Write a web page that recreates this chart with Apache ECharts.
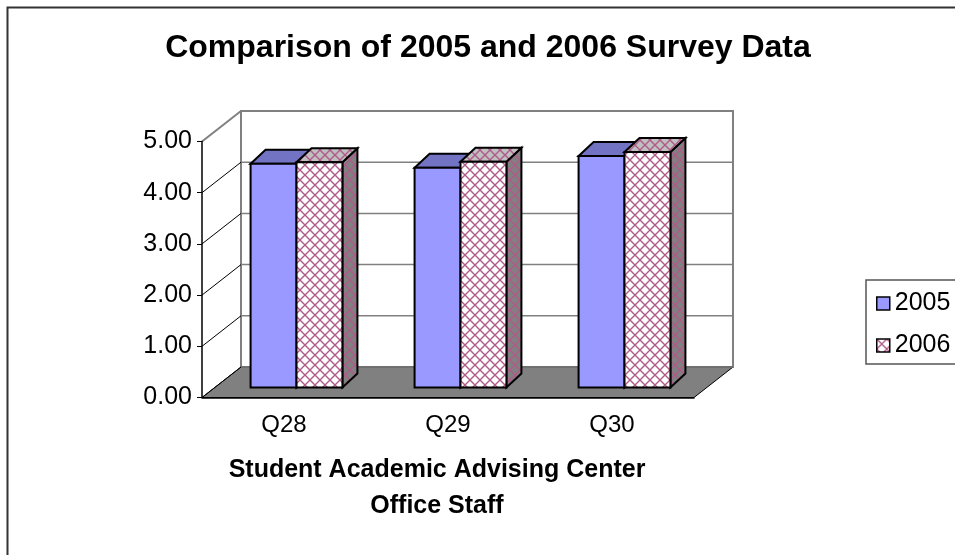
<!DOCTYPE html>
<html>
<head>
<meta charset="utf-8">
<script src="https://cdn.jsdelivr.net/npm/echarts@6/dist/echarts.min.js"></script>
<style>
  html, body { margin: 0; padding: 0; background: #fff; }
  #chart { width: 955px; height: 555px; }
</style>
</head>
<body>
<div id="chart"></div>
<script>
// Survey averages per question
const categories = ['Q28', 'Q29', 'Q30'];
const values2005 = [4.37, 4.29, 4.52];
const values2006 = [4.40, 4.41, 4.60];
const yTicks = [0, 1, 2, 3, 4, 5];
const seriesNames = ['2005', '2006'];

const FONT = "'Liberation Sans', Arial, sans-serif";

// Oblique projection of the 3-D box: back wall, bar front plane, bar thickness
const WALL_DX = 39, WALL_DY = -30.5;
const BAR_DX = 12.5, BAR_DY = -10;
const DEPTH_DX = 15, DEPTH_DY = -14;
const BAR_FRAC = 0.28;

// Diagonal cross-hatch tile on a given background colour
function hatch(bg) {
  const P = 10;
  const c = document.createElement('canvas');
  c.width = P; c.height = P;
  const g = c.getContext('2d');
  g.fillStyle = bg;
  g.fillRect(0, 0, P, P);
  g.strokeStyle = '#B05A8A';
  g.lineWidth = 1.4;
  g.beginPath();
  g.moveTo(-1, -1); g.lineTo(P + 1, P + 1);
  g.moveTo(P + 1, -1); g.lineTo(-1, P + 1);
  g.stroke();
  return { image: c, repeat: 'repeat' };
}

const faces2005 = { front: '#9999FF', top: '#7373C4', side: '#5C5CA8' };
const faces2006 = { front: hatch('#FFFFFF'), top: hatch('#C0C0C0'), side: hatch('#808080') };

// Back wall, floor, wall gridlines and the slanted tick connectors
function renderWall(params, api) {
  const cs = params.coordSys;
  const v = api.value(1);
  const x0 = cs.x, x1 = cs.x + cs.width;
  const y = api.coord([0, v])[1];
  const y0 = api.coord([0, yTicks[0]])[1];
  const yTop = api.coord([0, yTicks[yTicks.length - 1]])[1];
  const children = [];
  if (params.dataIndex === 0) {
    children.push({
      type: 'rect',
      shape: { x: x0 + WALL_DX, y: yTop + WALL_DY, width: cs.width, height: y0 - yTop },
      style: { fill: '#FFFFFF', stroke: '#808080', lineWidth: 2 }
    });
    children.push({
      type: 'polygon',
      shape: { points: [[x0, y0], [x1, y0], [x1 + WALL_DX, y0 + WALL_DY], [x0 + WALL_DX, y0 + WALL_DY]] },
      style: { fill: '#808080', stroke: '#000000', lineWidth: 1 }
    });
  }
  const isTop = v === yTicks[yTicks.length - 1];
  children.push({
    type: 'line',
    shape: { x1: x0 + WALL_DX, y1: y + WALL_DY, x2: x1 + WALL_DX, y2: y + WALL_DY },
    style: { stroke: '#808080', lineWidth: isTop ? 2 : 1.5 }
  });
  children.push({
    type: 'line',
    shape: { x1: x0, y1: y, x2: x0 + WALL_DX, y2: y + WALL_DY },
    style: { stroke: isTop ? '#808080' : '#000000', lineWidth: isTop ? 2 : 1 }
  });
  return { type: 'group', children: children };
}

// 3-D column: side face, top face, front face
function makeBar(leftOfCenter, faces) {
  return function (params, api) {
    const idx = api.value(0), val = api.value(1);
    const top = api.coord([idx, val]);
    const base = api.coord([idx, 0]);
    const bw = api.size([1, 0])[0] * BAR_FRAC;
    const xl = top[0] + BAR_DX - (leftOfCenter ? bw : 0);
    const xr = xl + bw;
    const yt = top[1] + BAR_DY, yb = base[1] + BAR_DY;
    const edge = { stroke: '#000000', lineWidth: 2, lineJoin: 'miter' };
    return {
      type: 'group',
      children: [
        { type: 'polygon',
          shape: { points: [[xr, yt], [xr + DEPTH_DX, yt + DEPTH_DY], [xr + DEPTH_DX, yb + DEPTH_DY], [xr, yb]] },
          style: Object.assign({ fill: faces.side }, edge) },
        { type: 'polygon',
          shape: { points: [[xl, yt], [xr, yt], [xr + DEPTH_DX, yt + DEPTH_DY], [xl + DEPTH_DX, yt + DEPTH_DY]] },
          style: Object.assign({ fill: faces.top }, edge) },
        { type: 'rect',
          shape: { x: xl, y: yt, width: bw, height: yb - yt },
          style: Object.assign({ fill: faces.front }, edge) }
      ]
    };
  };
}

const chart = echarts.init(document.getElementById('chart'), null, { renderer: 'canvas' });

chart.setOption({
  animation: false,
  backgroundColor: '#FFFFFF',
  title: [
    {
      text: 'Comparison of 2005 and 2006 Survey Data',
      left: 483, top: 27, textAlign: 'center',
      textStyle: { fontFamily: FONT, fontSize: 32, fontWeight: 'bold', color: '#000' }
    },
    {
      text: 'Student Academic Advising Center\nOffice Staff',
      left: 432, top: 447, textAlign: 'center',
      textStyle: { fontFamily: FONT, fontSize: 25, fontWeight: 'bold', lineHeight: 36, color: '#000' }
    }
  ],
  legend: {
    orient: 'vertical',
    left: 866, top: 280,
    padding: [11, 40, 6, 10],
    itemGap: 17, itemWidth: 13, itemHeight: 13, itemTextGap: 10,
    icon: 'rect',
    selectedMode: false,
    borderColor: '#555', borderWidth: 1.5,
    textStyle: { fontFamily: FONT, fontSize: 25, color: '#000' },
    data: [
      { name: seriesNames[0], itemStyle: { color: faces2005.front, borderColor: '#000', borderWidth: 1.5 } },
      { name: seriesNames[1], itemStyle: { color: hatch('#FFFFFF'), borderColor: '#000', borderWidth: 1.5 } }
    ]
  },
  graphic: [{
    type: 'rect', silent: true, z: -1,
    shape: { x: 7.5, y: 7.5, width: 1200, height: 800 },
    style: { fill: 'none', stroke: '#333', lineWidth: 2 }
  }],
  grid: { left: 202, right: 261, top: 141.5, bottom: 157.5, containLabel: false, outerBoundsMode: 'none' },
  xAxis: {
    type: 'category',
    data: categories,
    z: 10,
    axisLine: { lineStyle: { color: '#000', width: 1.5 } },
    axisTick: { length: 6, lineStyle: { color: '#000', width: 1 } },
    axisLabel: { fontFamily: FONT, fontSize: 24, color: '#000', margin: 16 },
    splitLine: { show: false }
  },
  yAxis: {
    type: 'value',
    min: yTicks[0], max: yTicks[yTicks.length - 1], interval: 1,
    z: 10,
    axisLine: { show: true, lineStyle: { color: '#000', width: 1.5 } },
    axisTick: { show: true, length: 5, lineStyle: { color: '#000', width: 1 } },
    axisLabel: { fontFamily: FONT, fontSize: 25, color: '#000', margin: 10, formatter: v => v.toFixed(2) },
    splitLine: { show: false }
  },
  series: [
    {
      type: 'custom', name: 'wall', silent: true, z: 1,
      renderItem: renderWall,
      encode: { x: 0, y: 1 },
      data: yTicks.map(v => [0, v])
    },
    {
      type: 'custom', name: seriesNames[0], z: 2,
      itemStyle: { color: faces2005.front },
      renderItem: makeBar(true, faces2005),
      encode: { x: 0, y: 1 },
      data: categories.map((c, i) => [i, values2005[i]])
    },
    {
      type: 'custom', name: seriesNames[1], z: 2,
      itemStyle: { color: '#FFFFFF' },
      renderItem: makeBar(false, faces2006),
      encode: { x: 0, y: 1 },
      data: categories.map((c, i) => [i, values2006[i]])
    }
  ]
});
</script>
</body>
</html>
